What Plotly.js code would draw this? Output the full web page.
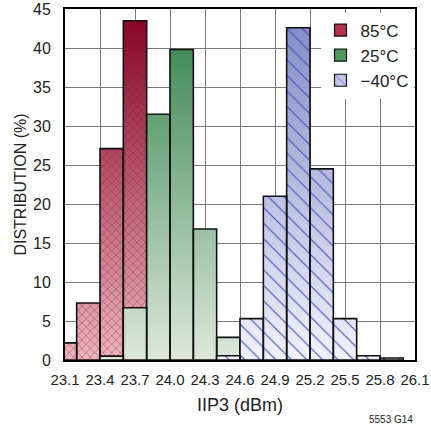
<!DOCTYPE html>
<html>
<head>
<meta charset="utf-8">
<script src="https://cdn.plot.ly/plotly-3.0.1.min.js"></script>
<style>html,body{margin:0;padding:0;background:#fff;}#chart{width:431px;height:432px;}</style>
</head>
<body>
<div id="chart"></div>
<script>
// Bin left edges (dBm), bin width 0.2
var binStarts = [23.0, 23.2, 23.4, 23.6, 23.8, 24.0, 24.2, 24.4, 24.6, 24.8, 25.0, 25.2, 25.4, 25.6, 25.8];
var binWidth = 0.2;
// Distribution (%) per bin
var hot85 =   [2.2, 7.3, 27.1, 43.5, 0, 0, 0, 0, 0, 0, 0, 0, 0, 0, 0];
var room25 =  [0, 0, 0.5, 6.7, 31.5, 39.8, 16.8, 2.9, 0, 0, 0, 0, 0, 0, 0];
var cold40 =  [0, 0, 0, 0, 0, 0, 0, 0.55, 5.3, 21.0, 42.6, 24.5, 5.3, 0.55, 0.25];
var seriesNames = ['85°C', '25°C', '\u221240°C'];
var xTickVals = [23.1, 23.4, 23.7, 24.0, 24.3, 24.6, 24.9, 25.2, 25.5, 25.8, 26.1];
var xTickText = ['23.1', '23.4', '23.7', '24.0', '24.3', '24.6', '24.9', '25.2', '25.5', '25.8', '26.1'];
var yTickVals = [0, 5, 10, 15, 20, 25, 30, 35, 40, 45];

var FONT = '"Liberation Sans", Arial, sans-serif';

function barPath(vals) {
  var xs = [], ys = [];
  for (var i = 0; i < vals.length; i++) {
    if (!vals[i]) continue;
    var x0 = binStarts[i], x1 = binStarts[i] + binWidth;
    xs.push(x0, x0, x1, x1, x0, null);
    ys.push(0, vals[i], vals[i], 0, 0, null);
  }
  return {x: xs, y: ys};
}

var styles = [
  {grad: [[0, '#ecb6c0'], [1, '#850020']], pat: {shape: 'x', fgcolor: '#8a1030', size: 6, solidity: 0.12}, legColor: '#b83350'},
  {grad: [[0, '#dde8db'], [1, '#2f8048']], pat: null, legColor: '#4e9860'},
  {grad: [[0, '#f1f2fc'], [1, '#8088c6']], pat: {shape: '\\', fgcolor: '#3f4fb0', size: 11, solidity: 0.1}, legColor: '#c3c8ea'}
];
var allVals = [hot85, room25, cold40];

var traces = [];
for (var s = 0; s < 3; s++) {
  var p = barPath(allVals[s]);
  traces.push({
    type: 'scatter', mode: 'lines', x: p.x, y: p.y, fill: 'toself',
    fillgradient: {type: 'vertical', colorscale: styles[s].grad, start: 0, stop: 45},
    line: {width: 0, color: 'rgba(0,0,0,0)'}, showlegend: false, hoverinfo: 'skip'
  });
  var t = {
    type: 'scatter', mode: 'lines', x: p.x, y: p.y, fill: 'toself',
    fillcolor: 'rgba(0,0,0,0)',
    line: {width: 1.6, color: '#111'}, showlegend: false, hoverinfo: 'skip'
  };
  if (styles[s].pat) {
    t.fillpattern = {shape: styles[s].pat.shape, fgcolor: styles[s].pat.fgcolor, bgcolor: 'rgba(0,0,0,0)',
      fillmode: 'replace', size: styles[s].pat.size, solidity: styles[s].pat.solidity};
  }
  traces.push(t);
}
// legend-only entries
for (var s = 0; s < 3; s++) {
  var lt = {
    type: 'bar', x: [24.0], y: [0], name: seriesNames[s], showlegend: true, hoverinfo: 'skip',
    marker: {color: styles[s].legColor, line: {color: '#111', width: 1.2}}
  };
  if (styles[s].pat) {
    lt.marker.pattern = {shape: styles[s].pat.shape, fgcolor: styles[s].pat.fgcolor, fillmode: 'overlay', size: 8, solidity: 0.15};
  }
  traces.push(lt);
}

var layout = {
  width: 431, height: 432,
  margin: {l: 65, r: 16, t: 9, b: 72, pad: 0},
  paper_bgcolor: '#fff', plot_bgcolor: '#fff',
  font: {family: FONT, color: '#222', size: 16},
  showlegend: true,
  legend: {x: 0.73, y: 0.99, xanchor: 'left', yanchor: 'top', bgcolor: '#fff', borderwidth: 0,
    font: {family: FONT, size: 17, color: '#222'}, tracegroupgap: 0, itemwidth: 30, traceorder: 'normal'},
  xaxis: {
    range: [23.1, 26.1], tickmode: 'array', tickvals: xTickVals, ticktext: xTickText, tickangle: 0,
    ticklabeloverflow: 'allow',
    showgrid: true, gridcolor: '#7a7a7a', gridwidth: 1, zeroline: false,
    showline: true, mirror: true, linecolor: '#000', linewidth: 2,
    ticks: '', ticklabelstandoff: 5,
    tickfont: {family: FONT, size: 15, color: '#222'},
    title: {text: 'IIP3 (dBm)', font: {family: FONT, size: 18, color: '#222'}, standoff: 11}
  },
  yaxis: {
    range: [0, 45], tickmode: 'array', tickvals: yTickVals, ticklabeloverflow: 'allow',
    showgrid: true, gridcolor: '#7a7a7a', gridwidth: 1, zeroline: false,
    showline: true, mirror: true, linecolor: '#000', linewidth: 2,
    ticks: '', ticklabelstandoff: 9,
    tickfont: {family: FONT, size: 16, color: '#222'},
    title: {text: 'DISTRIBUTION (%)', font: {family: FONT, size: 16, color: '#222'}, standoff: 2}
  },
  annotations: [{
    text: '5553 G14', xref: 'paper', yref: 'paper', x: 1.0, y: -0.17, xanchor: 'right', yanchor: 'middle',
    showarrow: false, font: {family: FONT, size: 10, color: '#222'}
  }]
};

Plotly.newPlot('chart', traces, layout, {displayModeBar: false, staticPlot: true});
</script>
</body>
</html>
